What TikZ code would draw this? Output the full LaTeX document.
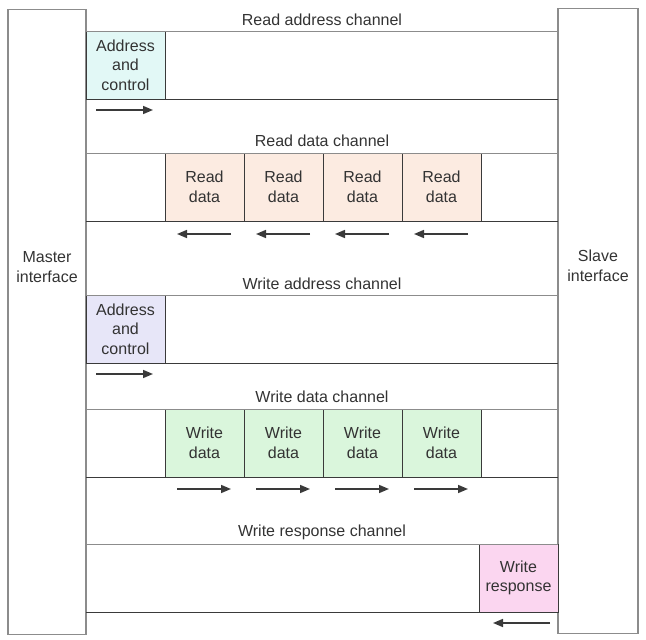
\documentclass[tikz,border=0pt]{standalone}
\usepackage{fontspec}
\setmainfont{Liberation Sans}
\usepackage{xcolor}
\usepackage{tikz}
\usetikzlibrary{positioning,arrows.meta,calc}
\definecolor{axiText}{HTML}{333333}
\definecolor{axiLine}{HTML}{8C8C8C}
\definecolor{axiEdge}{HTML}{3A3A3A}
\definecolor{axiCyan}{HTML}{E2F8F6}
\definecolor{axiPeach}{HTML}{FCEBE1}
\definecolor{axiLilac}{HTML}{E7E6F8}
\definecolor{axiMint}{HTML}{DAF6DC}
\definecolor{axiPink}{HTML}{FBD6F0}
\tikzset{
  axi-font/.style={font=\fontsize{16}{19.5}\selectfont, text=axiText},
  axi-port/.style={
    draw=axiLine, line width=1.6pt, fill=white,
    inner sep=0pt, outer sep=0pt, minimum height=625pt
  },
  axi-portlabel/.style={axi-font, align=center, yshift=55pt},
  axi-beat/.style={
    axi-font, draw=axiEdge, line width=0.9pt, align=center,
    inner sep=0pt, outer sep=0pt, minimum width=79pt, minimum height=68pt
  },
  axi-title/.style={axi-font},
  axi-top/.style={draw=axiLine, line width=1pt},
  axi-bot/.style={draw=axiEdge, line width=1pt},
  axi-flow/.style={-{Triangle[length=10pt,width=8pt]}, line width=1.6pt, draw=axiEdge}
}

\begin{document}
\begin{tikzpicture}[x=1pt, y=-1pt]
\useasboundingbox (0,0) rectangle (646,640);

% --- Interfaces ---
\node[axi-port, minimum width=78pt,
  label={[axi-portlabel]center:Master\\interface}] (master) at (47,322) {};
\node[axi-port, minimum width=80pt,
  label={[axi-portlabel]center:Slave\\interface}] (slave) at (598,321) {};

% --- Read address channel ---
\node[axi-title] (ratitle) at (322,20) {Read address channel};
\node[axi-beat, fill=axiCyan, anchor=north west] (raaddr) at (86,31)
  {Address\\and\\control};
\draw[axi-top] (master.east |- raaddr.north) -- (slave.west |- raaddr.north);
\draw[axi-bot] (master.east |- raaddr.south) -- (slave.west |- raaddr.south);
\draw[axi-flow] ($(raaddr.south west)+(10,11)$) -- ++(57,0);

% --- Read data channel ---
\node[axi-title] (rdtitle) at (322,141) {Read data channel};
\node[axi-beat, fill=axiPeach, anchor=north west] (rd1) at (165,153) {Read\\data};
\node[axi-beat, fill=axiPeach, right=0pt of rd1] (rd2) {Read\\data};
\node[axi-beat, fill=axiPeach, right=0pt of rd2] (rd3) {Read\\data};
\node[axi-beat, fill=axiPeach, right=0pt of rd3] (rd4) {Read\\data};
\draw[axi-top] (master.east |- rd1.north) -- (slave.west |- rd1.north);
\draw[axi-bot] (master.east |- rd1.south) -- (slave.west |- rd1.south);
\draw[axi-flow] ($(rd1.south east)+(-13,13)$) -- ++(-54,0);
\draw[axi-flow] ($(rd2.south east)+(-13,13)$) -- ++(-54,0);
\draw[axi-flow] ($(rd3.south east)+(-13,13)$) -- ++(-54,0);
\draw[axi-flow] ($(rd4.south east)+(-13,13)$) -- ++(-54,0);

% --- Write address channel ---
\node[axi-title] (watitle) at (322,284) {Write address channel};
\node[axi-beat, fill=axiLilac, anchor=north west] (waaddr) at (86,295)
  {Address\\and\\control};
\draw[axi-top] (master.east |- waaddr.north) -- (slave.west |- waaddr.north);
\draw[axi-bot] (master.east |- waaddr.south) -- (slave.west |- waaddr.south);
\draw[axi-flow] ($(waaddr.south west)+(10,11)$) -- ++(57,0);

% --- Write data channel ---
\node[axi-title] (wdtitle) at (322,397) {Write data channel};
\node[axi-beat, fill=axiMint, anchor=north west] (wd1) at (165,409) {Write\\data};
\node[axi-beat, fill=axiMint, right=0pt of wd1] (wd2) {Write\\data};
\node[axi-beat, fill=axiMint, right=0pt of wd2] (wd3) {Write\\data};
\node[axi-beat, fill=axiMint, right=0pt of wd3] (wd4) {Write\\data};
\draw[axi-top] (master.east |- wd1.north) -- (slave.west |- wd1.north);
\draw[axi-bot] (master.east |- wd1.south) -- (slave.west |- wd1.south);
\draw[axi-flow] ($(wd1.south west)+(12,12)$) -- ++(54,0);
\draw[axi-flow] ($(wd2.south west)+(12,12)$) -- ++(54,0);
\draw[axi-flow] ($(wd3.south west)+(12,12)$) -- ++(54,0);
\draw[axi-flow] ($(wd4.south west)+(12,12)$) -- ++(54,0);

% --- Write response channel ---
\node[axi-title] (wrtitle) at (322,532) {Write response channel};
\node[axi-beat, fill=axiPink, anchor=north east] (wresp) at (558,544)
  {Write\\response};
\draw[axi-top] (master.east |- wresp.north) -- (slave.west |- wresp.north);
\draw[axi-bot] (master.east |- wresp.south) -- (slave.west |- wresp.south);
\draw[axi-flow] ($(wresp.south east)+(-8,11)$) -- ++(-57,0);
\end{tikzpicture}
\end{document}
